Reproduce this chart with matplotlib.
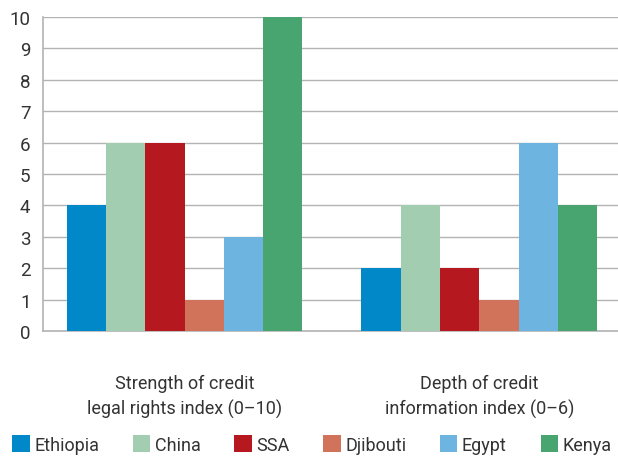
import matplotlib.pyplot as plt
import numpy as np

indicators = ["Strength of credit\nlegal rights index (0–10)",
              "Depth of credit\ninformation index (0–6)"]
countries = ["Ethiopia", "China", "SSA", "Djibouti", "Egypt", "Kenya"]
ethiopia = [4, 2]
china = [6, 4]
ssa = [6, 2]
djibouti = [1, 1]
egypt = [3, 6]
kenya = [10, 4]
colors = ["#0088c8", "#a2cdb0", "#b5191f", "#d0735a", "#6eb4e0", "#48a56f"]

plt.rcParams["font.family"] = ["Roboto", "DejaVu Sans"]

fig = plt.figure(figsize=(6.18, 4.6), dpi=100)
ax = fig.add_axes([43 / 618, 1 - 332 / 460, 575 / 618, 314 / 460])

series = [ethiopia, china, ssa, djibouti, egypt, kenya]
x = np.arange(len(indicators))
width = 0.8 / len(series)
for i, (name, vals) in enumerate(zip(countries, series)):
    ax.bar(x - 0.4 + width * (i + 0.5), vals, width, color=colors[i],
           label=name, zorder=3)

ax.set_ylim(0, 10)
ax.set_xlim(-0.48, 1.47)
ax.set_yticks(range(0, 11))
ax.yaxis.grid(True, color="#b3b3b3", linewidth=1, zorder=0)
ax.tick_params(axis="y", length=0, labelsize=13.5, colors="#333333", pad=9)
ax.set_xticks(x)
ax.set_xticklabels(indicators, fontsize=13, color="#333333", linespacing=1.45)
ax.tick_params(axis="x", length=0, pad=31)
for s in ["top", "right"]:
    ax.spines[s].set_visible(False)
for s in ["left", "bottom"]:
    ax.spines[s].set_color("#b3b3b3")
    ax.spines[s].set_linewidth(1.2)

fig.legend(loc="center left", bbox_to_anchor=(0.02, 0.032), ncol=6,
           frameon=False, fontsize=13, handlelength=0.95, handleheight=1.1,
           handletextpad=0.25, columnspacing=1.88, labelcolor="#333333",
           borderpad=0, borderaxespad=0)

fig.savefig("out.png", dpi=100)
